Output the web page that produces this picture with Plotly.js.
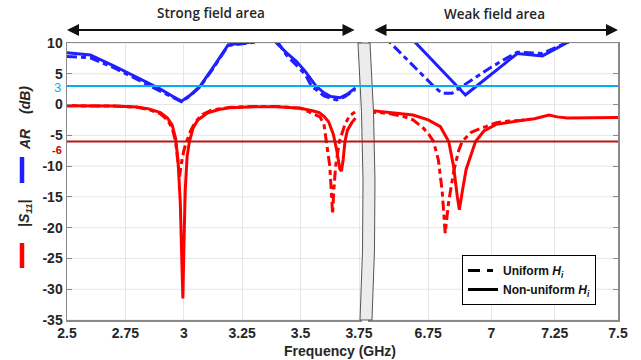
<!DOCTYPE html>
<html>
<head>
<meta charset="utf-8">
<script src="https://cdn.plot.ly/plotly-3.0.1.min.js"></script>
<style>html,body{margin:0;padding:0;background:#fff;}#chart{width:641px;height:360px;}</style>
</head>
<body>
<div id="chart"></div>
<script>
// ---------- DATA ----------
// Axial ratio (AR), strong-field band (left panel)
const arSolidLeftF = [2.5, 2.6, 2.7, 2.8, 2.9, 2.95, 2.99, 3.03, 3.07, 3.13, 3.19, 3.3, 3.34, 3.37, 3.395, 3.44, 3.483, 3.52, 3.566, 3.6, 3.63, 3.669, 3.70, 3.735];
const arSolidLeftV = [8.4, 8.05, 6.3, 4.4, 2.5, 1.4, 0.55, 1.6, 3.0, 6.3, 9.7, 10.2, 11.5, 11.2, 10.1, 8.4, 7.0, 5.4, 3.0, 1.9, 1.3, 1.1, 1.7, 2.7];
const arDashLeftF  = [2.5, 2.6, 2.7, 2.8, 2.9, 2.95, 2.99, 3.03, 3.07, 3.13, 3.19, 3.3, 3.34, 3.38, 3.403, 3.44, 3.483, 3.52, 3.547, 3.6, 3.654, 3.69, 3.733];
const arDashLeftV  = [7.8, 7.6, 6.0, 4.1, 2.2, 1.2, 0.45, 1.5, 2.9, 6.1, 9.6, 10.1, 11.5, 11.0, 10.1, 8.0, 6.4, 4.9, 3.0, 1.4, 0.74, 1.3, 2.4];
// AR, weak-field band (right panel)
const arSolidRightF = [6.65, 6.698, 6.8, 6.897, 6.95, 7.0, 7.05, 7.102, 7.201, 7.30, 7.35];
const arSolidRightV = [12.2, 10.1, 5.7, 1.55, 3.3, 4.9, 6.6, 8.3, 7.9, 10.1, 11.2];
const arDashRightF  = [6.55, 6.599, 6.70, 6.771, 6.804, 6.844, 6.90, 6.95, 7.0, 7.05, 7.102, 7.2, 7.30, 7.35];
const arDashRightV  = [12.1, 10.1, 6.0, 3.0, 1.83, 1.83, 3.4, 4.8, 6.1, 7.3, 8.5, 8.3, 10.1, 11.2];
// |S11|, strong-field band (left panel)
const s11SolidLeftF = [2.5, 2.6, 2.7, 2.8, 2.85, 2.9, 2.93, 2.95, 2.965, 2.975, 2.985, 2.992, 2.996, 3.0, 3.006, 3.014, 3.024, 3.04, 3.06, 3.1, 3.15, 3.2, 3.3, 3.4, 3.5, 3.55, 3.58, 3.6, 3.62, 3.64, 3.655, 3.668, 3.675, 3.682, 3.69, 3.7, 3.72, 3.735];
const s11SolidLeftV = [-0.2, -0.2, -0.25, -0.4, -0.7, -1.3, -2.2, -3.3, -5.5, -9, -16, -26, -31.5, -24, -14, -8.5, -6, -3.8, -2.5, -1.4, -0.8, -0.5, -0.35, -0.35, -0.6, -1.0, -1.3, -1.9, -2.8, -4.8, -7.5, -10.5, -10.8, -9, -6, -4.2, -2.9, -2.2];
const s11DashLeftF  = [2.5, 2.6, 2.7, 2.8, 2.85, 2.9, 2.93, 2.95, 2.965, 2.975, 2.982, 2.99, 3.0, 3.01, 3.03, 3.05, 3.08, 3.12, 3.2, 3.3, 3.4, 3.5, 3.55, 3.583, 3.6, 3.611, 3.625, 3.633, 3.637, 3.642, 3.65, 3.666, 3.69, 3.71, 3.733];
const s11DashLeftV  = [-0.2, -0.2, -0.25, -0.45, -0.8, -1.5, -2.5, -3.8, -6, -9.5, -11.7, -9.5, -7.5, -6.2, -4.2, -2.8, -1.6, -0.9, -0.45, -0.3, -0.3, -0.6, -1.4, -2.0, -3.2, -6, -10, -15, -17.8, -14, -10, -6, -3.2, -1.8, -1.2];
// |S11|, weak-field band (right panel)
const s11SolidRightF = [6.504, 6.56, 6.6, 6.65, 6.69, 6.75, 6.798, 6.831, 6.85, 6.865, 6.873, 6.885, 6.9, 6.937, 6.97, 7.02, 7.06, 7.115, 7.17, 7.2, 7.227, 7.26, 7.3, 7.4, 7.5];
const s11SolidRightV = [-0.9, -1.15, -1.3, -1.5, -1.7, -2.5, -3.6, -6, -10, -15, -17.1, -14, -10.5, -6, -4.3, -3.2, -2.9, -2.6, -2.3, -2.0, -1.7, -2.0, -2.2, -2.15, -2.1];
const s11DashRightF  = [6.504, 6.56, 6.6, 6.65, 6.69, 6.73, 6.755, 6.771, 6.79, 6.805, 6.817, 6.83, 6.85, 6.87, 6.884, 6.92, 6.956, 7.02, 7.06, 7.115, 7.15];
const s11DashRightV  = [-1.2, -1.3, -1.5, -1.9, -2.5, -3.8, -5, -6, -9, -14, -20.9, -16, -11, -7.5, -6, -4.5, -3.9, -2.95, -2.7, -2.6, -2.4];
// reference levels
const arLimit = 3;
const s11Limit = -6;
// tick labels
const leftTicks = [2.5, 2.75, 3, 3.25, 3.5, 3.75];
const rightTicks = [6.75, 7, 7.25, 7.5];
const yTicks = [-35, -30, -25, -20, -15, -10, -5, 0, 5, 10];

// ---------- STYLE ----------
const BLUE = '#1f1fff', RED = '#ff0000';
const DASH = '10px,4px,5px,4px';
const LW = 3;
function tr(x, y, color, dash, xa, ya) {
  return {x: x, y: y, type: 'scatter', mode: 'lines', xaxis: xa, yaxis: ya, showlegend: false,
          line: {color: color, width: LW, dash: dash}, hoverinfo: 'skip'};
}
const traces = [
  tr(s11SolidLeftF, s11SolidLeftV, RED, 'solid', 'x', 'y'),
  tr(s11DashLeftF, s11DashLeftV, RED, DASH, 'x', 'y'),
  tr(arSolidLeftF, arSolidLeftV, BLUE, 'solid', 'x', 'y'),
  tr(arDashLeftF, arDashLeftV, BLUE, DASH, 'x', 'y'),
  tr(s11SolidRightF, s11SolidRightV, RED, 'solid', 'x2', 'y2'),
  tr(s11DashRightF, s11DashRightV, RED, DASH, 'x2', 'y2'),
  tr(arSolidRightF, arSolidRightV, BLUE, 'solid', 'x2', 'y2'),
  tr(arDashRightF, arDashRightV, BLUE, DASH, 'x2', 'y2'),
  {x: [null], y: [null], type: 'scatter', mode: 'lines', name: 'Uniform <i>H<sub>i</sub></i>', line: {color: '#000', width: 3, dash: '12px,7px,6px,7px'}},
  {x: [null], y: [null], type: 'scatter', mode: 'lines', name: 'Non-uniform <i>H<sub>i</sub></i>', line: {color: '#000', width: 3}}
];

const W = 641, H = 360, ML = 67, MR = 23, MT = 43, MB = 40;
const PW = W - ML - MR, PH = H - MT - MB;
const px = v => (v - ML) / PW;          // pixel x -> paper
const py = v => (H - MB - v) / PH;      // pixel y -> paper

const tickFont = {family: 'Liberation Sans, Arial, sans-serif', size: 14, color: '#262626', weight: 'bold'};
const gridC = '#e6e6e6', axC = '#8a8a8a';

const xLeftEnd = 362, xRightStart = 368;
const layout = {
  width: W, height: H,
  margin: {l: ML, r: MR, t: MT, b: MB},
  paper_bgcolor: '#fff', plot_bgcolor: '#fff',
  showlegend: true,
  legend: {x: px(462), y: py(255), xanchor: 'left', yanchor: 'top', bgcolor: '#fff',
           bordercolor: '#000', borderwidth: 1,
           font: {family: 'Liberation Sans, Arial, sans-serif', size: 12, color: '#111', weight: 'bold'},
           tracegroupgap: 0},
  xaxis: {domain: [0, px(xLeftEnd)], range: [2.5, 2.5 + (xLeftEnd - ML) / 233.6], anchor: 'y',
          tickvals: leftTicks, ticktext: leftTicks.map(String), tickfont: tickFont,
          showgrid: true, gridcolor: gridC, showline: true, linecolor: axC, linewidth: 1.5, mirror: true,
          ticks: '', zeroline: false},
  xaxis2: {domain: [px(xRightStart), 1], range: [6.75 - (428 - xRightStart) / 252, 7.5], anchor: 'y2',
          tickvals: rightTicks, ticktext: rightTicks.map(String), tickfont: tickFont,
          showgrid: true, gridcolor: gridC, showline: true, linecolor: axC, linewidth: 1.5, mirror: true,
          ticks: '', zeroline: false},
  yaxis: {domain: [0, 1], range: [-35, 10], anchor: 'x', tickvals: yTicks, ticktext: yTicks.map(String),
          tickfont: tickFont, showgrid: false, showline: true, linecolor: axC, linewidth: 1.5,
          ticks: 'inside', ticklen: 5, tickcolor: axC, zeroline: false},
  yaxis2: {domain: [0, 1], range: [-35, 10], anchor: 'x2', side: 'right', tickvals: yTicks,
          showticklabels: false, showgrid: false, showline: true, linecolor: axC, linewidth: 1.5,
          ticks: 'inside', ticklen: 5, tickcolor: axC, zeroline: false},
  shapes: [],
  annotations: []
};

// horizontal grid lines across both panels
yTicks.forEach(v => layout.shapes.push({type: 'line', xref: 'paper', yref: 'y', x0: 0, x1: 1, y0: v, y1: v,
  line: {color: gridC, width: 1}, layer: 'below'}));
// axis break band
const b = (x, y) => px(x).toFixed(4) + ',' + py(y).toFixed(4);
layout.shapes.push({type: 'path', xref: 'paper', yref: 'paper', layer: 'above',
  path: 'M' + b(358, 43) + ' Q' + b(367, 180) + ' ' + b(360, 320) + ' L' + b(372, 320) + ' Q' + b(379, 180) + ' ' + b(370, 43) + ' Z',
  fillcolor: '#ececec', line: {color: '#555', width: 1}});
// reference levels
layout.shapes.push({type: 'line', xref: 'paper', yref: 'y', x0: 0, x1: 1, y0: arLimit, y1: arLimit,
  line: {color: '#00b0f0', width: 2}, layer: 'above'});
layout.shapes.push({type: 'line', xref: 'paper', yref: 'y', x0: 0, x1: 1, y0: s11Limit, y1: s11Limit,
  line: {color: '#b81414', width: 2}, layer: 'above'});
// y-title colour bars
layout.shapes.push({type: 'line', xref: 'paper', yref: 'paper', x0: px(22), x1: px(22), y0: py(157), y1: py(183),
  line: {color: BLUE, width: 4.5}});
layout.shapes.push({type: 'line', xref: 'paper', yref: 'paper', x0: px(22), x1: px(22), y0: py(243), y1: py(268),
  line: {color: RED, width: 4.5}});

const titleFont = {family: 'Liberation Sans, Arial, sans-serif', size: 14, color: '#262626', weight: 'bold'};
const ann = (text, x, y, extra) => layout.annotations.push(Object.assign({text: text, xref: 'paper', yref: 'paper',
  x: px(x), y: py(y), showarrow: false, font: titleFont, xanchor: 'center', yanchor: 'middle'}, extra || {}));
ann('<i>(dB)</i>', 25, 100, {textangle: -90});
ann('<i>AR</i>', 25, 139, {textangle: -90});
ann('<i>|S<sub>11</sub>|</i>', 25, 214, {textangle: -90});
ann('Frequency (GHz)', 340, 351);
// coloured reference-level labels on the y axis
ann(String(arLimit), 63, 87, {xanchor: 'right', font: {family: 'Liberation Sans, Arial, sans-serif', size: 13, color: '#00b0f0'}});
ann(String(s11Limit), 63, 150, {xanchor: 'right', borderpad: 0,
  font: {family: 'Liberation Sans, Arial, sans-serif', size: 11, color: '#c00000', weight: 'bold'}});
const topFont = {family: 'Open Sans, sans-serif', size: 13.5, color: '#262626', weight: 600};
ann('Strong field area', 211, 13, {font: topFont});
ann('Weak field area', 495, 14, {font: topFont});
// double-headed arrows
layout.annotations.push({text: '', xref: 'paper', yref: 'paper', x: px(67), y: py(30), ax: 289, ay: 0,
  showarrow: true, arrowside: 'end+start', arrowhead: 2, startarrowhead: 2, arrowsize: 1.2, startarrowsize: 1.2,
  arrowwidth: 2, arrowcolor: '#111', standoff: 0, startstandoff: 0});
layout.annotations.push({text: '', xref: 'paper', yref: 'paper', x: px(618), y: py(30), ax: -245, ay: 0,
  showarrow: true, arrowside: 'end+start', arrowhead: 2, startarrowhead: 2, arrowsize: 1.2, startarrowsize: 1.2,
  arrowwidth: 2, arrowcolor: '#111', standoff: 0, startstandoff: 0});

Plotly.newPlot('chart', traces, layout, {staticPlot: true, displayModeBar: false});
</script>
</body>
</html>
